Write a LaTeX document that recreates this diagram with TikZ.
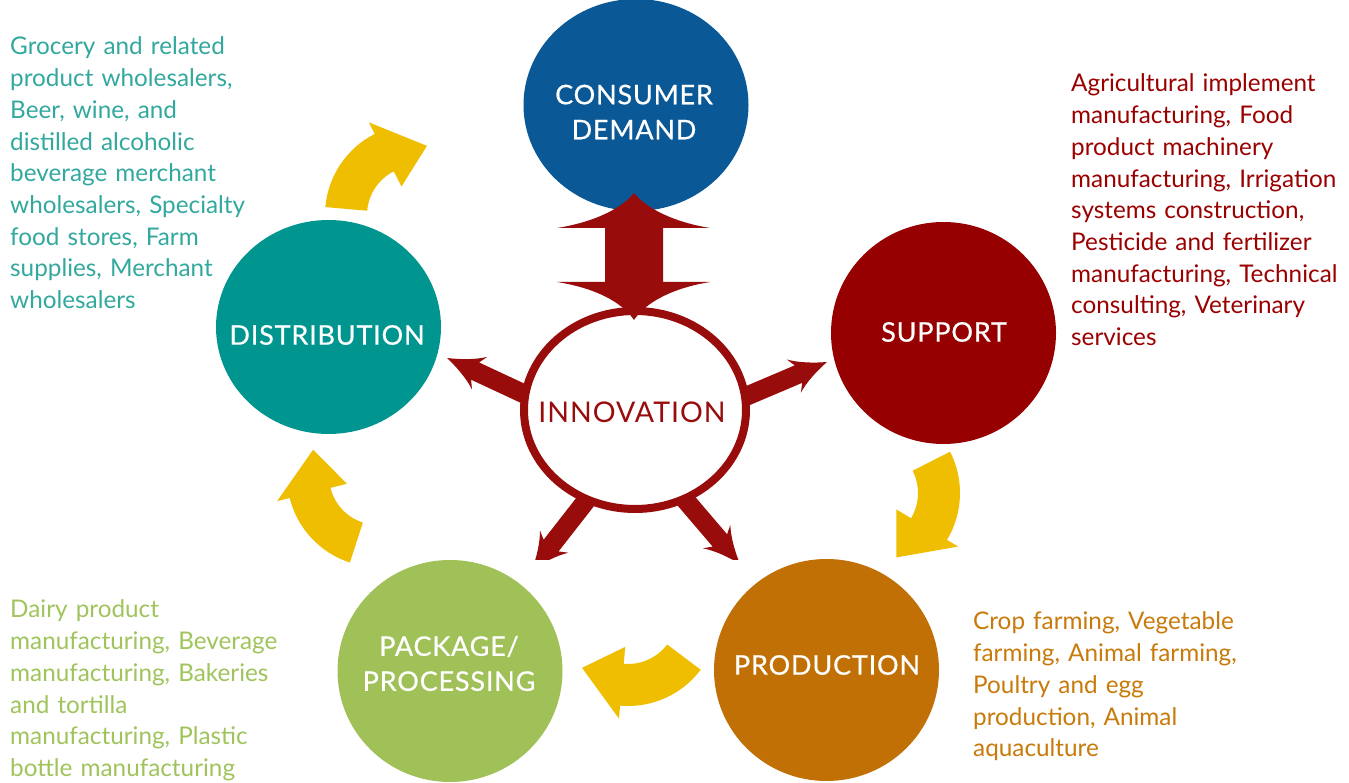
\documentclass[tikz,border=0pt]{standalone}
\usepackage{fontspec}
\setmainfont{Lato}
\newfontfamily\capsfont{Lato}[LetterSpace=3.5]
\newfontfamily\stagefont{Lato}[LetterSpace=3,FakeBold=0.6]
\usetikzlibrary{shapes.geometric}

\definecolor{demandblue}{RGB}{10,88,150}
\definecolor{supportred}{RGB}{150,0,0}
\definecolor{distteal}{RGB}{0,150,143}
\definecolor{prodorange}{RGB}{193,112,5}
\definecolor{packgreen}{RGB}{160,192,88}
\definecolor{cycleyellow}{RGB}{240,190,0}
\definecolor{innored}{RGB}{152,12,12}
\definecolor{tealtext}{RGB}{50,168,158}
\definecolor{redtext}{RGB}{155,0,0}
\definecolor{greentext}{RGB}{160,196,92}
\definecolor{orangetext}{RGB}{200,122,10}

\tikzset{
  stage/.style={ellipse, minimum width=225, minimum height=218, inner sep=0, draw=none},
  stagelabel/.style={text=white, font=\stagefont\fontsize{27}{35}\selectfont, align=center, inner sep=0},
  note/.style={anchor=base west, align=left, inner sep=0, text width=320,
               font=\fontsize{24.3}{31.7}\selectfont},
}

% curved yellow cycle arrow: centre of its arc and rotation
\newcommand{\cyclearrow}[3]{%
  \fill[cycleyellow, shift={(#1,#2)}, rotate=#3]
    (175:91) arc[start angle=175, end angle=117, radius=91]
    -- (117:104) -- (81:70) -- (117:32) -- (117:49)
    arc[start angle=117, end angle=175, radius=49] -- cycle;}

% straight red spoke leaving the innovation ring: tip coordinate and direction
\newcommand{\spoke}[2]{%
  \fill[innored, shift={(#1)}, rotate=#2]
    (0,0) .. controls (-12,4) and (-26,10) .. (-36,18) -- (-31,9.5) -- (-130,9.5)
    -- (-130,-9.5) -- (-31,-9.5) -- (-36,-18) .. controls (-26,-10) and (-12,-4) .. (0,0) -- cycle;}

\begin{document}
\begin{tikzpicture}[x=1pt,y=1pt]
\clip (0,0) rectangle (1349,782);
\fill[white] (0,0) rectangle (1349,782);

% stage circles
\node[stage, fill=demandblue, minimum height=212] (demand) at (636,677) {};
\node[stage, fill=supportred, minimum height=222] (support) at (943.5,449) {};
\node[stage, fill=distteal, minimum height=214] (distribution) at (328.5,455) {};
\node[stage, fill=packgreen, minimum height=222] (package) at (450,111) {};
\node[stage, fill=prodorange, minimum height=222] (production) at (826.5,112) {};

% cycle arrows
\cyclearrow{416}{567}{0}
\cyclearrow{869}{289}{-148}
\cyclearrow{628}{167}{148}
\cyclearrow{378}{306}{77}

% spokes from the innovation ring
\coordinate (tipdist) at (447,424);
\coordinate (tipsupp) at (827,420);
\coordinate (tippack) at (532,212);
\coordinate (tipprod) at (740,218);
\spoke{tipdist}{155}
\spoke{tipsupp}{23}
\begin{scope}
  \clip (0,222) rectangle (1349,782);
  \spoke{tippack}{232}
  \spoke{tipprod}{-49.5}
\end{scope}

% innovation ring
\node[ellipse, draw=innored, line width=8, fill=white, minimum width=222, minimum height=198,
      inner sep=0] (innov) at (635,372) {};
\node[text=innored, inner sep=0, font=\capsfont\fontsize{28.5}{30}\selectfont] (innovtext) at (632,370) {INNOVATION};

% double arrow between innovation and consumer demand
\fill[innored] (605,554) -- (557,554) .. controls (595,560) and (622,574) .. (634,589)
  .. controls (646,574) and (673,560) .. (710,554) -- (663,554) -- (663,500) -- (710,500)
  .. controls (673,494) and (646,480) .. (634,462)
  .. controls (622,480) and (595,494) .. (557,500) -- (605,500) -- cycle;

% stage labels
\node[stagelabel] (demandtext) at (634,670) {CONSUMER\\DEMAND};
\node[stagelabel] (supporttext) at (944,450) {SUPPORT};
\node[stagelabel] (disttext) at (327,447) {DISTRIBUTION};
\node[stagelabel] (packtext) at (449,118.5) {PACKAGE/\\PROCESSING};
\node[stagelabel] (prodtext) at (827,117) {PRODUCTION};

% industry notes
\node[note, text=tealtext] (distnote) at (10,727) {Grocery and related\\product wholesalers,\\Beer, wine, and\\distilled alcoholic\\beverage merchant\\wholesalers, Specialty\\food stores, Farm\\supplies, Merchant\\wholesalers};
\node[note, text=redtext] (suppnote) at (1071,690) {Agricultural implement\\manufacturing, Food\\product machinery\\manufacturing, Irrigation\\systems construction,\\Pesticide and fertilizer\\manufacturing, Technical\\consulting, Veterinary\\services};
\node[note, text=greentext] (packnote) at (10,164) {Dairy product\\manufacturing, Beverage\\manufacturing, Bakeries\\and tortilla\\manufacturing, Plastic\\bottle manufacturing};
\node[note, text=orangetext] (prodnote) at (973,152) {Crop farming, Vegetable\\farming, Animal farming,\\Poultry and egg\\production, Animal\\aquaculture};
\end{tikzpicture}
\end{document}
